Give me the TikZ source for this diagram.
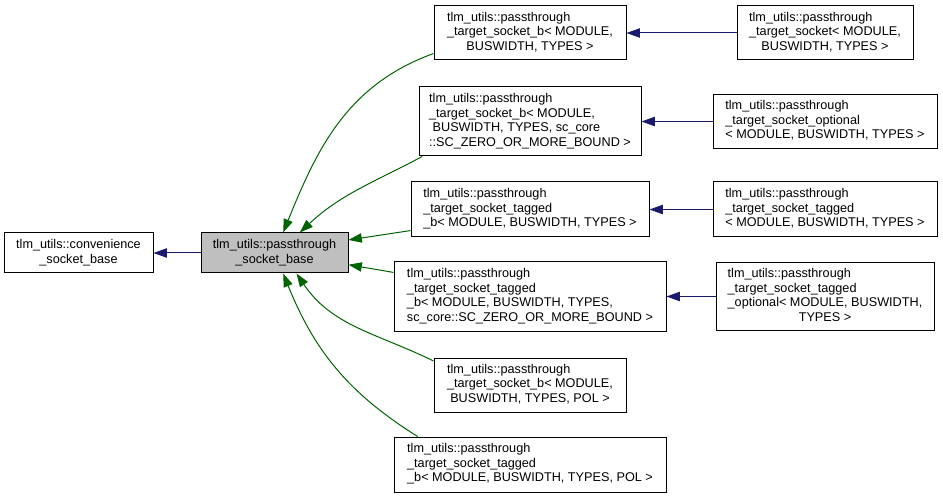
\documentclass[tikz,border=0pt]{standalone}
\usepackage{fontspec}
\setmainfont{Liberation Sans}
\usetikzlibrary{arrows.meta}
\definecolor{dgreen}{HTML}{006400}
\definecolor{mnblue}{HTML}{191970}
% all lines left, the last one centred
\newcommand{\cname}[2]{\begin{tabular}{@{}l@{}}#1\\\multicolumn{1}{@{}c@{}}{#2}\end{tabular}}

\begin{document}
\begin{tikzpicture}[x=0.75pt,y=0.75pt,
  cls/.style={rectangle,draw,fill=white,inner sep=0pt,line width=0.75pt,font=\fontsize{9.5}{10.9}\selectfont},
  inh/.style={draw=dgreen,line width=0.75pt,-{Triangle[length=10pt,width=7pt]}},
  use/.style={draw=mnblue,line width=0.75pt,-{Triangle[length=10pt,width=7pt]}}]
\useasboundingbox (0,0) rectangle (943,-499);

\node (conv) [cls,minimum width=111.75pt,minimum height=30pt] at (78.5,-253) {\cname{tlm\_utils::convenience}{\_socket\_base}};
\node (base) [cls,fill=black!25,minimum width=110.25pt,minimum height=30pt] at (274.5,-253) {\cname{tlm\_utils::passthrough}{\_socket\_base}};

\node (ta) [cls,minimum width=144pt,minimum height=40.5pt] at (530,-33) {\cname{tlm\_utils::passthrough\\\_target\_socket\_b< MODULE,}{ BUSWIDTH, TYPES >}};
\node (tb) [cls,minimum width=166.5pt,minimum height=51.75pt] at (530,-121.5) {\cname{tlm\_utils::passthrough\\\_target\_socket\_b< MODULE,\\\ BUSWIDTH, TYPES, sc\_core}{::SC\_ZERO\_OR\_MORE\_BOUND >}};
\node (tc) [cls,minimum width=178.5pt,minimum height=41.25pt] at (530,-209.5) {\cname{tlm\_utils::passthrough\\\_target\_socket\_tagged}{\_b< MODULE, BUSWIDTH, TYPES >}};
\node (td) [cls,minimum width=204pt,minimum height=51.75pt] at (530,-296.5) {\cname{tlm\_utils::passthrough\\\_target\_socket\_tagged\\\_b< MODULE, BUSWIDTH, TYPES,}{ sc\_core::SC\_ZERO\_OR\_MORE\_BOUND >}};
\node (te) [cls,minimum width=144pt,minimum height=40.5pt] at (530,-385) {\cname{tlm\_utils::passthrough\\\_target\_socket\_b< MODULE,}{ BUSWIDTH, TYPES, POL >}};
\node (tf) [cls,minimum width=204pt,minimum height=41.25pt] at (530,-464.5) {\cname{tlm\_utils::passthrough\\\_target\_socket\_tagged}{\_b< MODULE, BUSWIDTH, TYPES, POL >}};

\node (ra) [cls,minimum width=132pt,minimum height=40.5pt] at (825,-33) {\cname{tlm\_utils::passthrough\\\_target\_socket< MODULE,}{ BUSWIDTH, TYPES >}};
\node (rb) [cls,minimum width=168pt,minimum height=40.5pt] at (825,-121.5) {\cname{tlm\_utils::passthrough\\\_target\_socket\_optional}{< MODULE, BUSWIDTH, TYPES >}};
\node (rc) [cls,minimum width=168pt,minimum height=41.25pt] at (825,-209.5) {\cname{tlm\_utils::passthrough\\\_target\_socket\_tagged}{< MODULE, BUSWIDTH, TYPES >}};
\node (rd) [cls,minimum width=163.5pt,minimum height=51pt] at (825,-296.5) {\cname{tlm\_utils::passthrough\\\_target\_socket\_tagged\\\_optional< MODULE, BUSWIDTH,}{ TYPES >}};

\draw [use] (base) -- (conv);
\draw [inh] (ta.192) to[out=200,in=68] (base.67);
\draw [inh] (tb.198) to[out=208,in=43] (base.39);
\draw [inh] (tc.190) -- (base.10);
\draw [inh] (td.170) -- (base.351);
\draw [inh] (te.166) to[out=154,in=-56] (base.317);
\draw [inh] (tf.166) to[out=148,in=-68] (base.293);

\draw [use] (ra) -- (ta);
\draw [use] (rb) -- (tb);
\draw [use] (rc) -- (tc);
\draw [use] (rd) -- (td);
\end{tikzpicture}
\end{document}
